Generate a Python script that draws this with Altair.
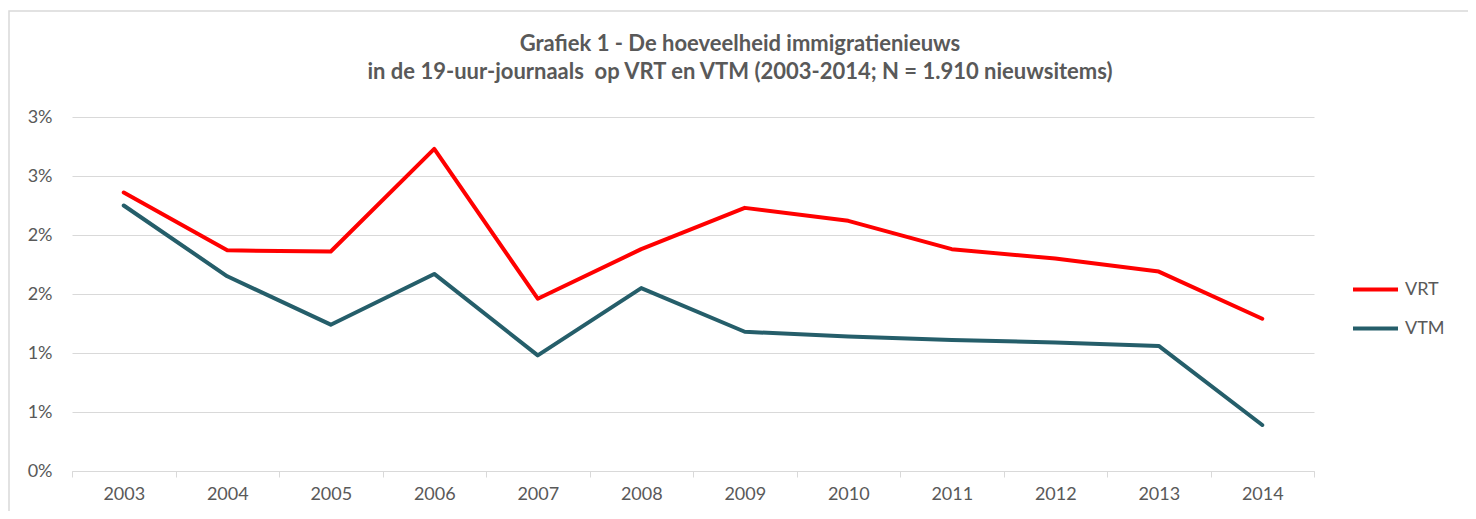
import altair as alt
import pandas as pd

years = ["2003", "2004", "2005", "2006", "2007", "2008", "2009", "2010", "2011", "2012", "2013", "2014"]
vrt = [2.36, 1.87, 1.86, 2.73, 1.46, 1.88, 2.23, 2.12, 1.88, 1.80, 1.69, 1.29]
vtm = [2.25, 1.65, 1.24, 1.67, 0.98, 1.55, 1.18, 1.14, 1.11, 1.09, 1.06, 0.39]
series = ["VRT", "VTM"]
colors = ["#FF0000", "#255E6A"]
y_ticks = [0, 0.5, 1, 1.5, 2, 2.5, 3]

rows = []
for name, vals in zip(series, [vrt, vtm]):
    for yr, v in zip(years, vals):
        rows.append({"jaar": yr, "reeks": name, "waarde": v})
df = pd.DataFrame(rows)

FONT = "Lato"
GREY = "#595959"

frame = alt.Chart(pd.DataFrame({"a": [0]})).mark_rect(
    fill="white", fillOpacity=0, stroke="#D9D9D9", strokeWidth=1.5, clip=False
).encode(
    x=alt.value(-63), x2=alt.value(1399), y=alt.value(-106), y2=alt.value(420)
)

lines = alt.Chart(df).mark_line(strokeWidth=4, strokeJoin="round", strokeCap="round").encode(
    x=alt.X("jaar:O", sort=years, bandPosition=0.5,
            scale=alt.Scale(type="band", paddingInner=0, paddingOuter=0),
            axis=alt.Axis(title=None, labelAngle=0, tickBand="extent", domainColor="#D9D9D9",
                          tickColor="#D9D9D9", tickSize=6, labelPadding=8, grid=False)),
    y=alt.Y("waarde:Q", scale=alt.Scale(domain=[0, 3], nice=False),
            axis=alt.Axis(title=None, values=y_ticks, labelExpr="round(datum.value) + '%'",
                          domain=False, ticks=False, labelPadding=20, gridColor="#D9D9D9",
                          gridWidth=1.2)),
    color=alt.Color("reeks:N", scale=alt.Scale(domain=series, range=colors),
                    legend=alt.Legend(title=None, orient="none", legendX=1279, legendY=148,
                                      symbolType="stroke", symbolSize=2025, symbolStrokeWidth=4,
                                      labelFontSize=18, labelFont=FONT, labelColor=GREY,
                                      rowPadding=5, labelOffset=5)),
)

chart = alt.layer(frame, lines).properties(
    width=1242,
    height=354,
    padding={"left": 64, "top": 109, "right": 154, "bottom": 40},
    autosize=alt.AutoSizeParams(type="none"),
    title=alt.TitleParams(
        text=["Grafiek 1 - De hoeveelheid immigratienieuws",
              "in de 19-uur-journaals\u00a0 op VRT en VTM (2003-2014; N = 1.910 nieuwsitems)"],
        anchor="middle", frame="group", dx=47, offset=-74, fontSize=22, font=FONT,
        fontWeight="bold", color=GREY, lineHeight=28,
    ),
).configure_view(stroke=None).configure_axis(
    labelFont=FONT, labelFontSize=18, labelColor=GREY
)

chart.save("out.html", embed_options={"renderer": "svg", "actions": False})
